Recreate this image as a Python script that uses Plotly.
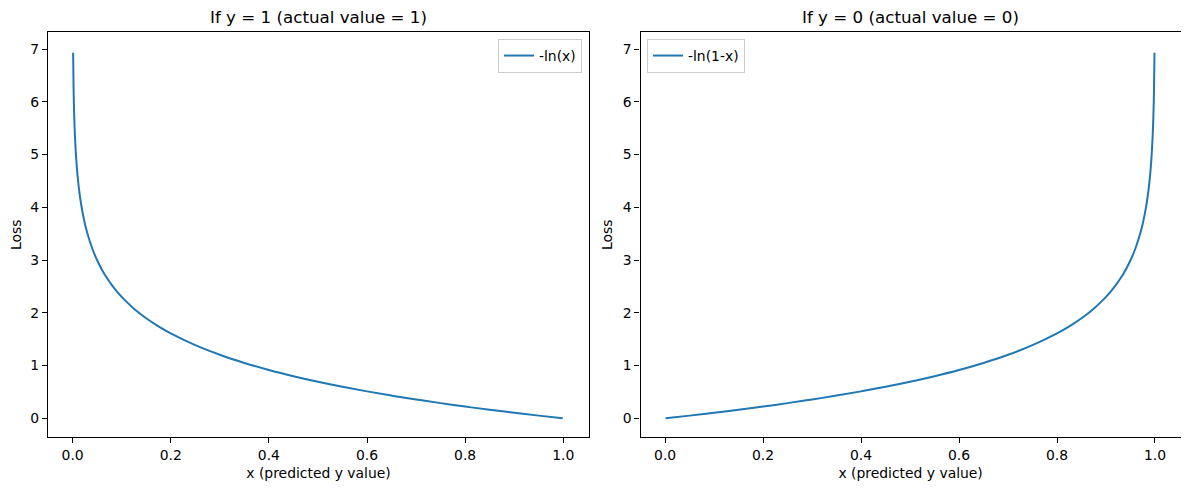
import plotly.graph_objects as go
from plotly.subplots import make_subplots

# values
x_left = [0.001, 0.002, 0.003, 0.005, 0.0075, 0.01, 0.0125, 0.015, 0.02, 0.025, 0.03, 0.04,
          0.05, 0.06, 0.07, 0.08, 0.09, 0.1, 0.11, 0.125, 0.15, 0.175, 0.2, 0.25, 0.3, 0.35,
          0.4, 0.45, 0.5, 0.55, 0.6, 0.65, 0.7, 0.75, 0.8, 0.85, 0.9, 0.95, 0.999]
loss_left = [6.93, 6.215, 5.809, 5.298, 4.893, 4.605, 4.382, 4.200, 3.912, 3.689, 3.507, 3.219,
             2.996, 2.813, 2.659, 2.526, 2.408, 2.303, 2.207, 2.079, 1.897, 1.743, 1.609, 1.386,
             1.204, 1.050, 0.916, 0.799, 0.693, 0.598, 0.511, 0.431, 0.357, 0.288, 0.223,
             0.163, 0.105, 0.051, 0.001]

x_right = [0.001, 0.05, 0.1, 0.15, 0.2, 0.25, 0.3, 0.35, 0.4, 0.45, 0.5, 0.55, 0.6, 0.65,
           0.7, 0.75, 0.8, 0.825, 0.85, 0.875, 0.89, 0.9, 0.91, 0.92, 0.93, 0.94, 0.95, 0.96,
           0.97, 0.975, 0.98, 0.985, 0.9875, 0.99, 0.9925, 0.995, 0.997, 0.998, 0.999]
loss_right = [0.001, 0.051, 0.105, 0.163, 0.223, 0.288, 0.357, 0.431, 0.511, 0.598, 0.693,
              0.799, 0.916, 1.050, 1.204, 1.386, 1.609, 1.743, 1.897, 2.079, 2.207, 2.303,
              2.408, 2.526, 2.659, 2.813, 2.996, 3.219, 3.507, 3.689, 3.912, 4.200, 4.382,
              4.605, 4.893, 5.298, 5.809, 6.215, 6.93]

x_ticks = [0.0, 0.2, 0.4, 0.6, 0.8, 1.0]
y_ticks = [0, 1, 2, 3, 4, 5, 6, 7]

blue = "#1f77b4"
font = "DejaVu Sans"
# the page body has an 8px margin, so the figure starts at (8, 8) in the window
OFF = 8
W, H = 1189 - OFF, 490 - OFF


def px(x):
    return (x - OFF) / W


def py(y):
    return 1 - (y - OFF) / H


fig = make_subplots(rows=1, cols=2)

fig.add_trace(go.Scatter(x=x_left, y=loss_left, mode="lines", name="-ln(x)",
                         line=dict(color=blue, width=2, shape="spline", smoothing=1.0),
                         showlegend=True, legend="legend"), row=1, col=1)
fig.add_trace(go.Scatter(x=x_right, y=loss_right, mode="lines", name="-ln(1-x)",
                         line=dict(color=blue, width=2, shape="spline", smoothing=1.0),
                         showlegend=True, legend="legend2"), row=1, col=2)

axis_style = dict(showline=True, mirror=True, linecolor="black", linewidth=1.1,
                  ticks="outside", ticklen=5, tickcolor="black", tickwidth=1.1,
                  showgrid=False, zeroline=False, automargin=False,
                  tickfont=dict(family=font, size=13.9, color="black"))

for col, dom in [(1, [px(48), px(589)]), (2, [px(640.5), px(1180.7)])]:
    fig.update_xaxes(domain=dom, range=[-0.0502, 1.0525], tickvals=x_ticks,
                     tickformat=".1f",
                     title=dict(text="x (predicted y value)", standoff=6,
                                font=dict(family=font, size=13.9, color="black")),
                     **axis_style, row=1, col=col)
    fig.update_yaxes(domain=[py(437), py(32.3)], range=[-0.354, 7.317],
                     tickvals=y_ticks,
                     title=dict(text="Loss", standoff=6,
                                font=dict(family=font, size=13.9, color="black")),
                     **axis_style, row=1, col=col)

titles = [("If y = 1 (actual value = 1)", px((48 + 589) / 2)),
          ("If y = 0 (actual value = 0)", px((640.5 + 1180.7) / 2))]
for text, xc in titles:
    fig.add_annotation(text=text, x=xc, y=py(17), xref="paper", yref="paper",
                       showarrow=False, xanchor="center", yanchor="middle",
                       font=dict(family=font, size=16.7, color="black"))

legend_style = dict(bgcolor="rgba(255,255,255,0.8)", bordercolor="#cccccc", borderwidth=1,
                    font=dict(family=font, size=13.9, color="black"), yanchor="top")

fig.update_layout(
    width=W, height=H,
    margin=dict(l=0, r=0, t=0, b=0),
    plot_bgcolor="white", paper_bgcolor="white",
    font=dict(family=font, color="black"),
    showlegend=True,
    legend=dict(x=px(582), xanchor="right", y=py(39), **legend_style),
    legend2=dict(x=px(647), xanchor="left", y=py(39), **legend_style),
)

fig.write_html("out.html")
